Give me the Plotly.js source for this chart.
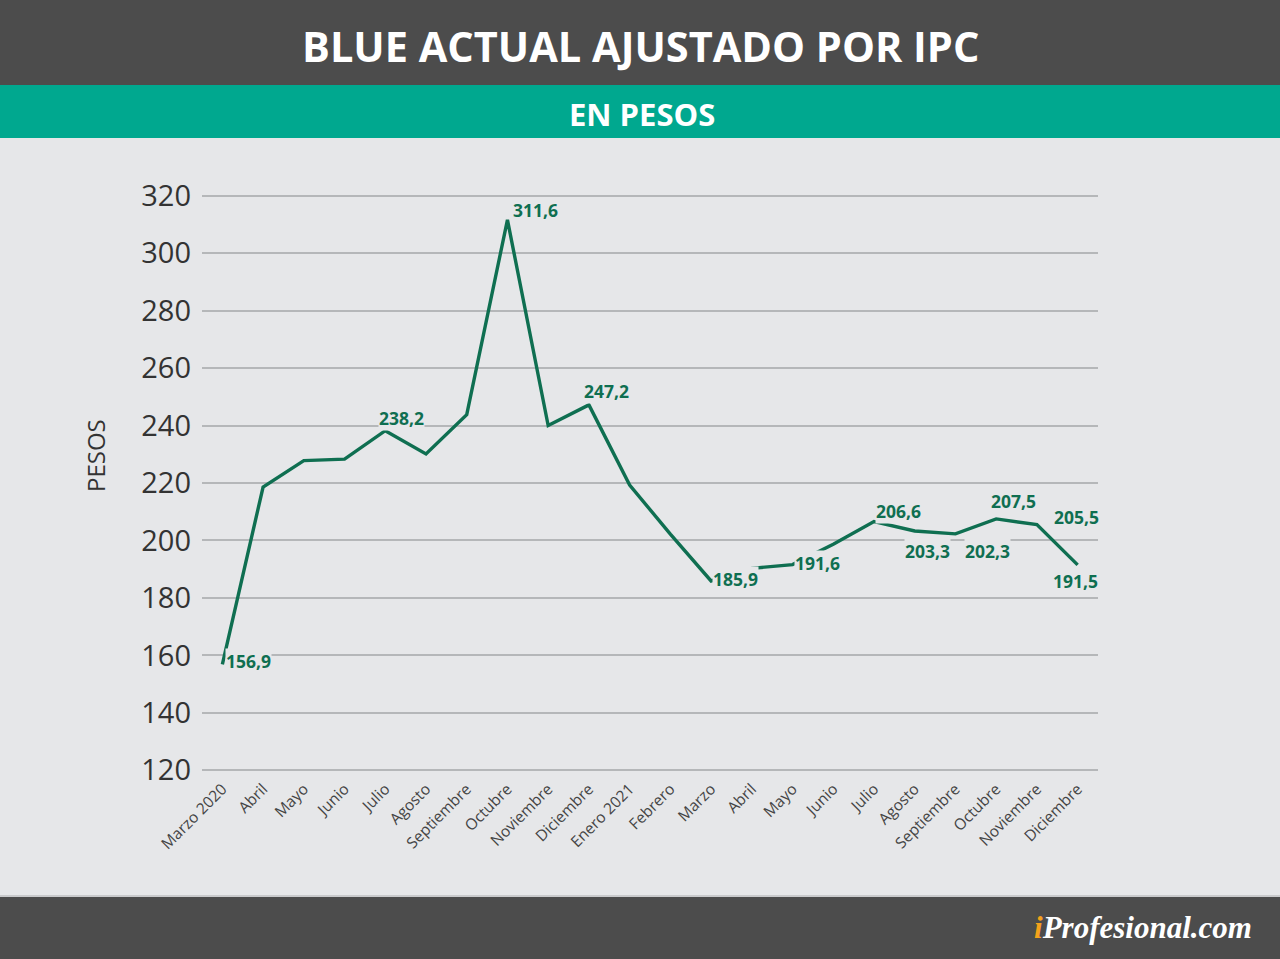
<!DOCTYPE html>
<html>
<head>
<meta charset="utf-8">
<script src="https://cdn.plot.ly/plotly-3.0.1.min.js"></script>
<style>
  html, body { margin: 0; padding: 0; background: #e6e7e9; }
  #graph { width: 1280px; height: 959px; }
</style>
</head>
<body>
<div id="graph"></div>
<script>
const months = ['Marzo 2020', 'Abril', 'Mayo', 'Junio', 'Julio', 'Agosto', 'Septiembre',
  'Octubre', 'Noviembre', 'Diciembre', 'Enero 2021', 'Febrero', 'Marzo', 'Abril', 'Mayo',
  'Junio', 'Julio', 'Agosto', 'Septiembre', 'Octubre', 'Noviembre', 'Diciembre'];

const bluePesos = [156.9, 218.6, 227.8, 228.3, 238.2, 230.1, 243.8, 311.6, 240.0, 247.2,
  219.3, 202.2, 185.9, 190.3, 191.6, 198.7, 206.6, 203.3, 202.3, 207.5, 205.5, 191.5];

const yTicks = [120, 140, 160, 180, 200, 220, 240, 260, 280, 300, 320];

// which points carry a value label
const labelled = [0, 4, 7, 9, 12, 14, 16, 17, 18, 19, 20, 21];

// label placement, in pixels, per labelled point
const labelPos = {
  0: {anchor: 'left', dx: 3, dy: 3},
  4: {anchor: 'center', dx: 16, dy: 13},
  7: {anchor: 'left', dx: 5, dy: 10},
  9: {anchor: 'center', dx: 18, dy: 14},
  12: {anchor: 'left', dx: 1, dy: 2},
  14: {anchor: 'left', dx: 1, dy: 2},
  16: {anchor: 'left', dx: 1, dy: 10},
  17: {anchor: 'center', dx: 13, dy: -20},
  18: {anchor: 'left', dx: 9, dy: -17},
  19: {anchor: 'center', dx: 17, dy: 18},
  20: {anchor: 'left', dx: 16, dy: 8},
  21: {anchor: 'center', dx: -2, dy: -16}
};

const BG = '#e6e7e9';
const DARK = '#4c4c4c';
const TEAL = '#00a88f';
const GREEN = '#0f6f51';

const W = 1280, H = 959;
const M = {l: 202, r: 182, t: 190, b: 183};
const pw = W - M.l - M.r;
const ph = H - M.t - M.b;

// page pixels -> paper coords
function px(x) { return (x - M.l) / pw; }
function py(y) { return (H - M.b - y) / ph; }

function fmt(v) {
  return v.toFixed(1).replace('.', ',');
}

const xIdx = months.map((m, i) => i);

const trace = {
  x: xIdx,
  y: bluePesos,
  mode: 'lines',
  line: {color: GREEN, width: 3.4},
  hoverinfo: 'skip'
};

const annotations = labelled.map(i => {
  const p = labelPos[i];
  return {
    x: i,
    y: bluePesos[i],
    xref: 'x',
    yref: 'y',
    text: fmt(bluePesos[i]),
    showarrow: false,
    xanchor: p.anchor,
    yanchor: 'middle',
    xshift: p.dx,
    yshift: p.dy,
    bgcolor: BG,
    borderpad: 0,
    font: {family: 'Open Sans', size: 17.5, weight: 700, color: GREEN}
  };
});

annotations.push(
  {
    xref: 'paper', yref: 'paper', x: px(640), y: py(46),
    text: 'BLUE ACTUAL AJUSTADO POR IPC', showarrow: false,
    xanchor: 'center', yanchor: 'middle',
    font: {family: 'Open Sans', size: 41.5, weight: 700, color: '#ffffff'}
  },
  {
    xref: 'paper', yref: 'paper', x: px(642), y: py(114),
    text: 'EN PESOS', showarrow: false,
    xanchor: 'center', yanchor: 'middle',
    font: {family: 'Open Sans', size: 31, weight: 700, color: '#ffffff'}
  },
  {
    xref: 'paper', yref: 'paper', x: px(95), y: py(456),
    text: 'PESOS', showarrow: false, textangle: -90,
    xanchor: 'center', yanchor: 'middle',
    font: {family: 'Open Sans', size: 24, color: '#333333'}
  },
  {
    xref: 'paper', yref: 'paper', x: px(1254), y: py(927),
    text: '<span style="color:#f4a21c">i</span>Profesional.com', showarrow: false,
    xanchor: 'right', yanchor: 'middle',
    font: {family: 'Liberation Serif', size: 31, style: 'italic', weight: 700, color: '#ffffff'}
  }
);

const shapes = [
  {type: 'rect', xref: 'paper', yref: 'paper', x0: px(0), x1: px(W), y0: py(85), y1: py(0),
    fillcolor: DARK, line: {width: 0}, layer: 'below'},
  {type: 'rect', xref: 'paper', yref: 'paper', x0: px(0), x1: px(W), y0: py(138), y1: py(85),
    fillcolor: TEAL, line: {width: 0}, layer: 'below'},
  {type: 'rect', xref: 'paper', yref: 'paper', x0: px(0), x1: px(W), y0: py(H), y1: py(897),
    fillcolor: DARK, line: {width: 0}, layer: 'below'},
  {type: 'line', xref: 'paper', yref: 'paper', x0: px(0), x1: px(W), y0: py(896), y1: py(896),
    line: {color: '#bfc0c2', width: 1.5}, layer: 'below'}
];

const layout = {
  width: W,
  height: H,
  margin: {l: M.l, r: M.r, t: M.t, b: M.b, pad: 0},
  paper_bgcolor: BG,
  plot_bgcolor: BG,
  showlegend: false,
  font: {family: 'Open Sans', color: '#333333'},
  xaxis: {
    range: [-0.5, 21.5],
    tickmode: 'array',
    tickvals: xIdx,
    ticktext: months,
    tickangle: -45,
    ticks: '',
    showgrid: false,
    showline: false,
    zeroline: false,
    fixedrange: true,
    tickfont: {family: 'Open Sans', size: 15.5, color: '#444444'}
  },
  yaxis: {
    range: [118, 322],
    tickmode: 'array',
    tickvals: yTicks,
    ticks: '',
    showgrid: true,
    gridcolor: '#b5b7b9',
    gridwidth: 2,
    showline: false,
    zeroline: false,
    fixedrange: true,
    ticklabelstandoff: 10,
    tickfont: {family: 'Open Sans', size: 29, color: '#333333'}
  },
  shapes: shapes,
  annotations: annotations
};

Plotly.newPlot('graph', [trace], layout, {displayModeBar: false, staticPlot: true});
</script>
</body>
</html>
